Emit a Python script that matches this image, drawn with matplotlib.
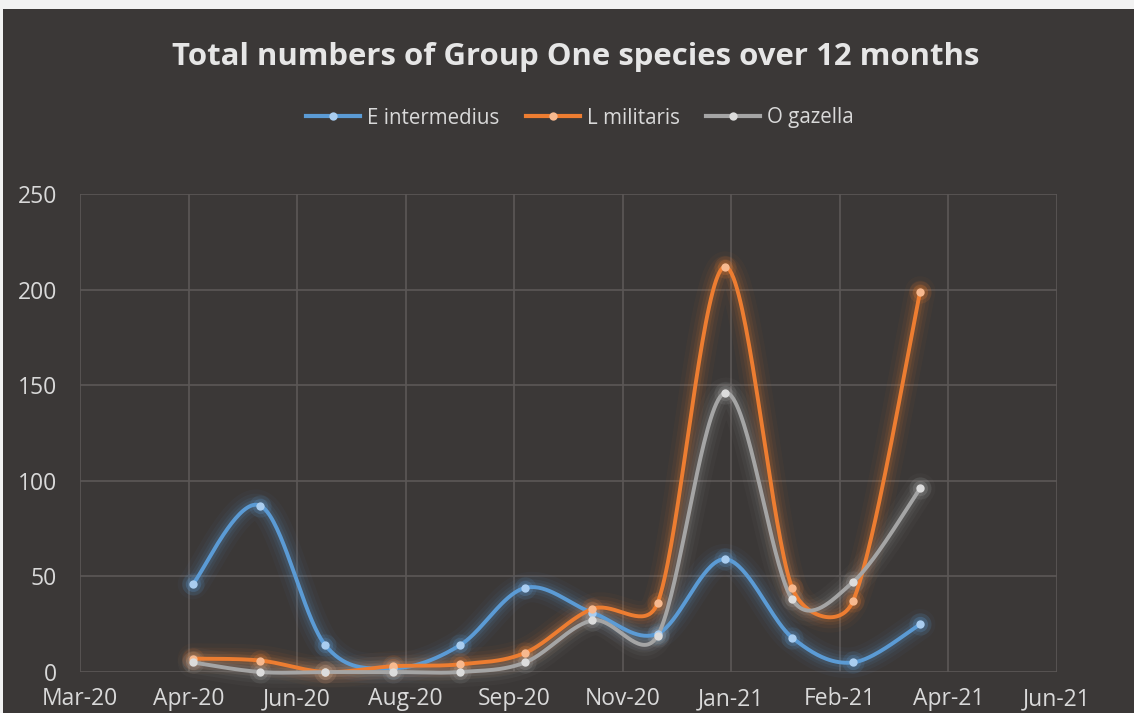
import numpy as np
import matplotlib
matplotlib.use("Agg")
import matplotlib.pyplot as plt
import matplotlib.dates as mdates
from matplotlib.patches import Rectangle
from datetime import date, timedelta

# monthly survey dates
months = ["2020-05-01", "2020-06-01", "2020-07-01", "2020-08-01", "2020-09-01", "2020-10-01",
          "2020-11-01", "2020-12-01", "2021-01-01", "2021-02-01", "2021-03-01", "2021-04-01"]

e_intermedius = [46, 87, 14, 2, 14, 44, 31, 20, 59, 18, 5, 25]
l_militaris = [7, 6, 0, 3, 4, 10, 33, 36, 212, 44, 37, 199]
o_gazella = [5, 0, 0, 0, 0, 5, 27, 19, 146, 38, 47, 96]

series_names = ["E intermedius", "L militaris", "O gazella"]
line_colors = ["#5b9bd5", "#ed7d31", "#a5a5a5"]
marker_colors = ["#a9cdf0", "#f7b98f", "#dcdcdc"]

# excel date axis: fixed 50 day major unit
axis_start = date(2020, 3, 10)
major_days = 50
n_major = 9

bg = "#3b3837"
grid_c = "#5c5857"
text_c = "#d9d9d9"


def smooth(ax, x, y, n=40):
    '''Catmull-Rom style bezier in screen space, arms kept under half a segment'''
    p = ax.transData.transform(np.column_stack([x, y]))
    m = len(p)
    tan = np.array([(p[min(i + 1, m - 1)] - p[max(i - 1, 0)]) / 6 for i in range(m)])
    out = []
    t = np.linspace(0, 1, n)[:, None]
    for i in range(m - 1):
        p1, p2 = p[i], p[i + 1]
        L = np.linalg.norm(p2 - p1)
        a1, a2 = tan[i].copy(), tan[i + 1].copy()
        for a in (a1, a2):
            la = np.linalg.norm(a)
            if la > 0.5 * L:
                a *= 0.5 * L / la
        c1, c2 = p1 + a1, p2 - a2
        out.append(((1 - t) ** 3) * p1 + 3 * ((1 - t) ** 2) * t * c1 + 3 * (1 - t) * t ** 2 * c2 + t ** 3 * p2)
    out = ax.transData.inverted().transform(np.vstack(out))
    return out[:, 0], out[:, 1]


fig = plt.figure(figsize=(11.34, 7.13), dpi=100, facecolor="#f2f2f2")
fig.patches.append(Rectangle((3 / 1134, 0), 1, 1 - 9 / 713, transform=fig.transFigure,
                             facecolor=bg, edgecolor="none", zorder=-5))

ax = fig.add_axes([80 / 1134, 1 - 672 / 713, 977 / 1134, 478 / 713])
ax.set_zorder(2)
ax.set_facecolor(bg)

ticks = [axis_start + timedelta(days=major_days * k) for k in range(n_major + 1)]
ax.set_xlim(mdates.date2num(ticks[0]), mdates.date2num(ticks[-1]))
ax.set_xticks(mdates.date2num(ticks))
ax.xaxis.set_major_formatter(mdates.DateFormatter("%b-%y"))
ax.set_ylim(0, 250)
ax.set_yticks(range(0, 251, 50))

xs = mdates.date2num([date.fromisoformat(m) for m in months])
for name, vals, lc, mc in zip(series_names, [e_intermedius, l_militaris, o_gazella], line_colors, marker_colors):
    sx, sy = smooth(ax, xs, vals)
    # soft glow under the line
    for w, a in [(22, 0.04), (16, 0.06), (11, 0.08), (7, 0.12)]:
        ax.plot(sx, sy, color=lc, lw=w, alpha=a, solid_capstyle="round", zorder=2, clip_on=False)
    for s, a in [(16, 0.12), (11, 0.2)]:
        ax.plot(xs, vals, "o", color=lc, ms=s, alpha=a, mec="none", zorder=2, clip_on=False)
    ax.plot(sx, sy, color=lc, lw=2.8, solid_capstyle="round", zorder=3, clip_on=False)
    ax.plot(xs, vals, "o", color=mc, ms=6, mec="none", zorder=4, clip_on=False)
    ax.plot([], [], color=lc, lw=3, marker="o", ms=6, mfc=mc, mec="none", label=name)

ax.grid(True, color=grid_c, lw=1.2)
ax.set_axisbelow(True)
for s in ax.spines.values():
    s.set_visible(False)
ax.tick_params(length=0, colors=text_c, labelsize=16.5)
ax.tick_params(axis="x", pad=11)
ax.tick_params(axis="y", pad=16.5)
for lab in ax.get_xticklabels() + ax.get_yticklabels():
    lab.set_fontfamily("Open Sans")

fig.text(576 / 1134, 1 - 57 / 713, "Total numbers of Group One species over 12 months",
         ha="center", va="center", color="#e6e6e6", fontsize=22.4, fontweight="bold",
         family="Open Sans")

leg = fig.legend(loc="center", bbox_to_anchor=(580 / 1134, 1 - 118 / 713), ncol=3, frameon=False,
                 handlelength=2.6, columnspacing=1.3, handletextpad=0.35,
                 prop={"family": "Open Sans", "size": 14.8})
for t in leg.get_texts():
    t.set_color(text_c)

fig.savefig("out.png", dpi=100, facecolor=fig.get_facecolor())
